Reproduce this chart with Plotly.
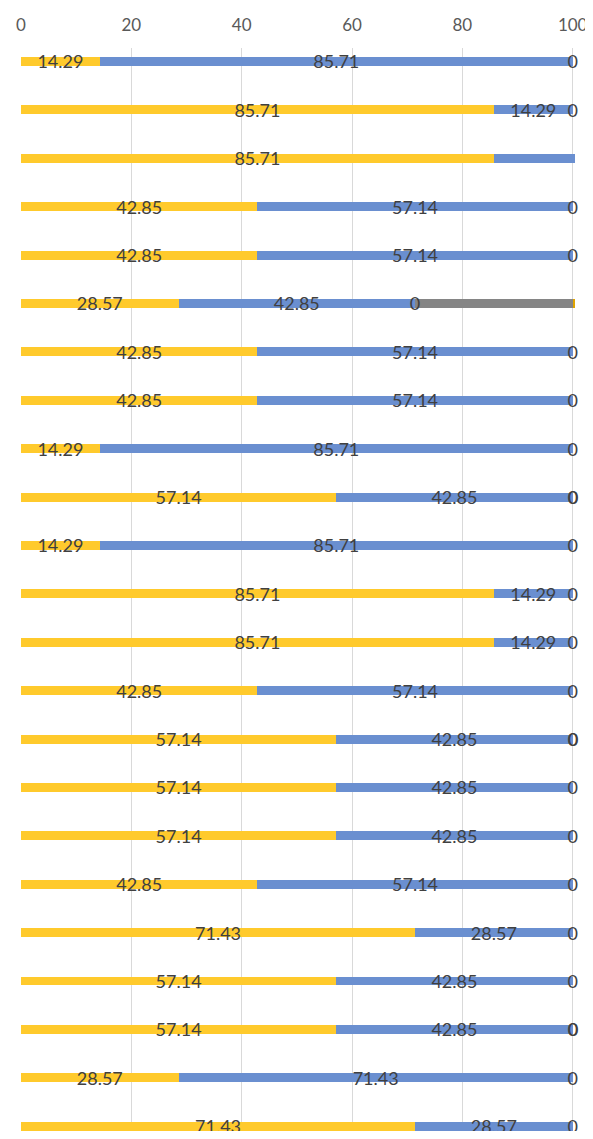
import plotly.graph_objects as go

rows = list(range(23))
yellow = [14.29, 85.71, 85.71, 42.85, 42.85, 28.57, 42.85, 42.85, 14.29, 57.14,
          14.29, 85.71, 85.71, 42.85, 57.14, 57.14, 57.14, 42.85, 71.43, 57.14,
          57.14, 28.57, 71.43]
blue = [85.71, 14.29, 14.79, 57.14, 57.14, 42.85, 57.14, 57.14, 85.71, 42.85,
        85.71, 14.29, 14.29, 57.14, 42.85, 42.85, 42.85, 57.14, 28.57, 42.85,
        42.85, 71.43, 28.57]
zero_a = [0] * 23
gray = [0, 0, 0, 0, 0, 28.57, 0, 0, 0, 0, 0, 0, 0, 0, 0, 0, 0, 0, 0, 0, 0, 0, 0]
gold = [0, 0, 0, 0, 0, 0.5, 0, 0, 0, 0, 0, 0, 0, 0, 0, 0, 0, 0, 0, 0, 0, 0, 0]
show_blue_label = [r != 2 for r in rows]
show_zero_label = [r != 2 for r in rows]
double_zero = [r in (9, 14, 20) for r in rows]
xticks = [0, 20, 40, 60, 80, 100]

C_YEL = "#FFCA2C"
C_BLU = "#6A8FD0"
C_GRY = "#858585"
C_GLD = "#E0A400"
TXT = "#404040"
FONT = "Lato"
BW = 0.185
DY = 0.05

fig = go.Figure()
for vals, col in [(yellow, C_YEL), (blue, C_BLU), (zero_a, C_GRY), (gray, C_GRY), (gold, C_GLD)]:
    fig.add_trace(go.Bar(y=rows, x=vals, orientation="h", width=BW,
                         marker=dict(color=col, line=dict(width=0)),
                         showlegend=False, hoverinfo="skip"))

lab_x, lab_y, lab_t = [], [], []
for i in rows:
    lab_x.append(yellow[i] / 2); lab_y.append(i + DY); lab_t.append(f"{yellow[i]:.2f}")
    if show_blue_label[i]:
        lab_x.append(yellow[i] + blue[i] / 2); lab_y.append(i + DY); lab_t.append(f"{blue[i]:.2f}")
    if show_zero_label[i]:
        lab_x.append(yellow[i] + blue[i] + zero_a[i]); lab_y.append(i + DY); lab_t.append("0")
fig.add_trace(go.Scatter(x=lab_x, y=lab_y, text=lab_t, mode="text",
                         textposition="middle center",
                         textfont=dict(family=FONT, size=18, color=TXT),
                         showlegend=False, hoverinfo="skip", cliponaxis=False))
# overlapping second zero label (appears bolder)
dz_x = [yellow[i] + blue[i] + 0.12 for i in rows if double_zero[i]]
dz_y = [i + DY for i in rows if double_zero[i]]
fig.add_trace(go.Scatter(x=dz_x, y=dz_y, text=["0"] * len(dz_x), mode="text",
                         textposition="middle center",
                         textfont=dict(family=FONT, size=18, color=TXT),
                         showlegend=False, hoverinfo="skip", cliponaxis=False))

fig.update_layout(
    width=600, height=1123,
    margin=dict(l=13, r=32, t=40, b=0),
    barmode="stack",
    plot_bgcolor="white", paper_bgcolor="white",
    xaxis=dict(side="top", range=[0, 100.6], tickvals=xticks,
               ticktext=[str(v) for v in xticks],
               showgrid=True, gridcolor="#D9D9D9", gridwidth=1,
               zeroline=False, showline=False,
               ticks="outside", ticklen=9, tickcolor="rgba(0,0,0,0)",
               ticklabeloverflow="allow",
               tickfont=dict(family=FONT, size=17, color="#595959"),
               fixedrange=True),
    yaxis=dict(range=[22.1, -0.28], showticklabels=False, showgrid=False,
               zeroline=False, showline=False, fixedrange=True),
)
fig.write_html("out.html")
